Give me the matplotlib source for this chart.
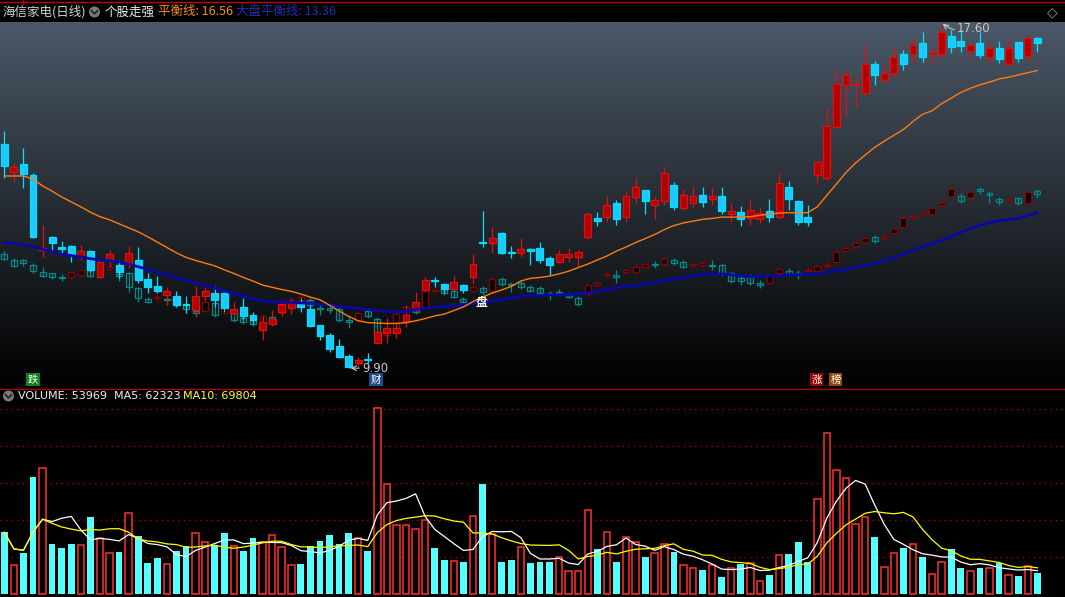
import numpy as np
import pandas as pd
import matplotlib
matplotlib.use("Agg")
import matplotlib.pyplot as plt
from matplotlib.patches import Circle, Rectangle
from matplotlib.lines import Line2D

plt.rcParams['font.family'] = ['Noto Sans CJK SC', 'DejaVu Sans']

# ---- stock (海信家电) daily candles ----
stock_open = [14.92, 14.30, 14.47, 14.22, 12.54, 12.84, 12.62, 12.64, 12.39, 12.52,
              11.95, 12.32, 12.21, 12.23, 12.32, 11.90, 11.74, 11.54, 11.52, 11.34,
              11.20, 11.52, 11.58, 11.58, 11.14, 11.27, 11.09, 10.75, 10.89, 11.16,
              11.25, 11.39, 11.22, 10.87, 10.64, 10.40, 10.17, 10.01, 10.11, 10.47,
              10.69, 10.69, 10.93, 11.20, 11.65, 11.87, 11.78, 11.67, 11.76, 11.93,
              12.73, 12.69, 12.93, 12.51, 12.47, 12.57, 12.58, 12.37, 12.28, 12.38,
              12.38, 12.83, 13.25, 13.28, 13.59, 13.28, 13.72, 13.89, 13.55, 13.65,
              14.00, 13.49, 13.60, 13.77, 13.68, 13.75, 13.35, 13.40, 13.25, 13.23,
              13.42, 13.28, 13.95, 13.64, 13.28, 14.22, 14.16, 15.30, 16.24, 16.24,
              16.06, 16.71, 16.35, 16.51, 16.93, 16.93, 17.18, 16.94, 16.94, 17.33,
              17.22, 17.00, 17.18, 16.86, 17.06, 16.71, 17.20, 16.89, 17.29]
stock_high = [15.21, 14.49, 14.83, 14.27, 13.10, 12.86, 12.75, 12.66, 12.66, 12.54,
              12.34, 12.54, 12.32, 12.63, 12.61, 12.04, 11.96, 11.72, 11.63, 11.52,
              11.74, 11.72, 11.74, 11.60, 11.38, 11.47, 11.16, 11.07, 11.20, 11.43,
              11.47, 11.47, 11.31, 10.87, 10.68, 10.55, 10.22, 10.14, 10.24, 10.80,
              11.02, 10.93, 11.31, 11.61, 11.95, 11.94, 11.81, 11.96, 11.78, 12.45,
              13.42, 13.06, 12.95, 12.63, 12.81, 12.59, 12.73, 12.41, 12.54, 12.58,
              12.54, 13.38, 13.40, 13.75, 13.66, 13.84, 14.15, 13.89, 13.72, 14.39,
              14.06, 13.91, 13.98, 13.95, 13.92, 13.95, 13.59, 13.53, 13.66, 13.50,
              13.68, 14.26, 14.09, 13.66, 13.55, 14.52, 15.71, 16.56, 16.57, 16.39,
              17.13, 16.78, 16.72, 17.09, 17.02, 17.26, 17.41, 17.03, 17.60, 17.47,
              17.47, 17.18, 17.41, 17.17, 17.22, 17.24, 17.20, 17.33, 17.32]
stock_low = [14.16, 14.07, 13.93, 12.81, 12.39, 12.52, 12.48, 12.28, 12.32, 12.06,
             11.92, 12.17, 11.92, 12.14, 11.81, 11.58, 11.58, 11.31, 11.28, 11.13,
             11.05, 11.43, 11.28, 11.16, 11.05, 10.98, 10.89, 10.53, 10.84, 11.07,
             11.11, 11.16, 10.82, 10.53, 10.27, 10.13, 9.90, 9.93, 10.02, 10.46,
             10.46, 10.58, 10.82, 11.16, 11.61, 11.72, 11.58, 11.65, 11.58, 11.80,
             12.62, 12.48, 12.45, 12.37, 12.39, 12.21, 12.25, 11.99, 12.25, 12.28,
             12.17, 12.79, 13.07, 13.18, 13.10, 13.16, 13.60, 13.35, 13.24, 13.55,
             13.44, 13.44, 13.51, 13.51, 13.55, 13.35, 13.18, 13.07, 13.10, 13.14,
             13.18, 13.25, 13.45, 13.10, 13.08, 14.02, 14.11, 15.30, 15.53, 15.74,
             16.01, 16.24, 16.31, 16.40, 16.56, 16.72, 16.76, 16.72, 16.81, 16.96,
             16.98, 16.82, 16.85, 16.72, 16.72, 16.71, 16.74, 16.76, 16.98]
stock_close = [14.42, 14.39, 14.25, 12.84, 12.60, 12.71, 12.57, 12.43, 12.52, 12.10,
               12.28, 12.45, 12.05, 12.48, 11.87, 11.72, 11.63, 11.62, 11.31, 11.31,
               11.52, 11.62, 11.43, 11.25, 11.22, 11.07, 10.98, 10.93, 11.00, 11.34,
               11.38, 11.26, 10.84, 10.61, 10.32, 10.14, 9.93, 10.08, 10.08, 10.72,
               10.80, 10.80, 11.09, 11.38, 11.87, 11.85, 11.67, 11.82, 11.65, 12.23,
               12.69, 12.82, 12.48, 12.47, 12.57, 12.53, 12.32, 12.21, 12.45, 12.45,
               12.49, 13.35, 13.20, 13.55, 13.24, 13.75, 13.95, 13.65, 13.66, 14.26,
               13.51, 13.77, 13.75, 13.62, 13.75, 13.42, 13.42, 13.23, 13.44, 13.37,
               13.28, 14.04, 13.68, 13.16, 13.16, 14.52, 15.32, 16.26, 16.46, 16.26,
               16.71, 16.46, 16.51, 16.87, 16.71, 17.13, 16.86, 16.96, 17.42, 17.09,
               17.11, 17.13, 16.91, 17.06, 16.82, 17.06, 16.83, 17.29, 17.18]

# ---- market index overlay (scaled to the stock's price axis) ----
idx_open = [12.45, 12.32, 12.32, 12.20, 12.06, 12.02, 11.94, 11.95, 11.98, 12.09,
            12.00, 12.13, 12.00, 12.03, 11.69, 11.45, 11.46, 11.45, 11.36, 11.31,
            11.18, 11.19, 11.35, 11.13, 11.13, 11.02, 10.98, 10.79, 11.05, 11.14,
            11.28, 11.43, 11.43, 11.24, 11.25, 11.22, 10.98, 10.98, 11.19, 11.00,
            10.64, 10.75, 11.05, 11.25, 11.26, 11.63, 11.67, 11.63, 11.44, 11.63,
            11.69, 11.63, 11.89, 11.78, 11.80, 11.71, 11.69, 11.58, 11.61, 11.56,
            11.46, 11.55, 11.76, 11.99, 11.98, 12.05, 12.05, 12.17, 12.22, 12.22,
            12.32, 12.27, 12.21, 12.20, 12.21, 12.21, 12.02, 11.91, 11.93, 11.80,
            11.81, 12.02, 12.07, 12.02, 12.07, 12.07, 12.19, 12.27, 12.53, 12.64,
            12.73, 12.83, 12.82, 12.92, 13.05, 13.29, 13.34, 13.34, 13.55, 13.75,
            13.75, 13.72, 13.91, 13.81, 13.68, 13.66, 13.70, 13.59, 13.86]
idx_high = [12.52, 12.37, 12.34, 12.25, 12.16, 12.03, 12.01, 12.06, 12.13, 12.13,
            12.12, 12.25, 12.06, 12.06, 11.72, 11.50, 11.59, 11.56, 11.43, 11.39,
            11.35, 11.43, 11.38, 11.29, 11.18, 11.07, 11.02, 11.11, 11.11, 11.43,
            11.47, 11.54, 11.47, 11.35, 11.29, 11.27, 11.07, 11.18, 11.25, 11.05,
            10.80, 11.16, 11.31, 11.31, 11.69, 11.69, 11.72, 11.67, 11.49, 11.78,
            11.74, 11.94, 11.94, 11.83, 11.85, 11.76, 11.74, 11.63, 11.67, 11.60,
            11.52, 11.78, 11.85, 12.07, 12.10, 12.14, 12.25, 12.28, 12.30, 12.39,
            12.37, 12.32, 12.28, 12.30, 12.32, 12.25, 12.05, 11.99, 12.01, 11.87,
            12.01, 12.16, 12.14, 12.10, 12.19, 12.23, 12.32, 12.54, 12.66, 12.77,
            12.86, 12.88, 12.92, 13.06, 13.37, 13.37, 13.44, 13.53, 13.64, 13.95,
            13.82, 13.91, 13.95, 13.86, 13.73, 13.73, 13.73, 13.86, 13.91]
idx_low = [12.32, 12.16, 12.19, 12.02, 11.95, 11.90, 11.84, 11.87, 11.95, 11.95,
           11.96, 12.06, 11.84, 11.61, 11.39, 11.35, 11.39, 11.31, 11.28, 11.13,
           11.09, 11.16, 11.05, 11.09, 10.93, 10.89, 10.84, 10.75, 10.93, 11.11,
           11.25, 11.38, 11.27, 11.09, 11.13, 10.93, 10.80, 10.93, 11.02, 10.69,
           10.60, 10.71, 11.02, 11.11, 11.25, 11.58, 11.54, 11.47, 11.34, 11.60,
           11.54, 11.60, 11.74, 11.61, 11.67, 11.60, 11.54, 11.43, 11.52, 11.47,
           11.29, 11.52, 11.72, 11.92, 11.81, 12.01, 12.01, 12.14, 12.14, 12.19,
           12.21, 12.14, 12.16, 12.16, 12.10, 11.96, 11.81, 11.76, 11.76, 11.69,
           11.78, 11.99, 11.96, 11.90, 12.03, 12.03, 12.14, 12.23, 12.50, 12.59,
           12.70, 12.70, 12.77, 12.88, 13.01, 13.24, 13.28, 13.30, 13.51, 13.71,
           13.60, 13.60, 13.80, 13.60, 13.55, 13.62, 13.55, 13.55, 13.71]
idx_close = [12.35, 12.19, 12.26, 12.08, 11.97, 11.95, 11.92, 12.05, 12.09, 11.97,
             12.09, 12.17, 11.96, 11.72, 11.46, 11.39, 11.50, 11.42, 11.31, 11.22,
             11.13, 11.39, 11.09, 11.24, 10.98, 10.93, 10.89, 11.07, 11.00, 11.37,
             11.43, 11.49, 11.31, 11.22, 11.20, 10.98, 10.94, 11.13, 11.07, 10.72,
             10.74, 11.11, 11.26, 11.15, 11.65, 11.65, 11.59, 11.50, 11.37, 11.72,
             11.61, 11.89, 11.78, 11.75, 11.72, 11.63, 11.58, 11.54, 11.55, 11.50,
             11.33, 11.75, 11.80, 12.01, 11.95, 12.10, 12.17, 12.22, 12.20, 12.34,
             12.25, 12.17, 12.22, 12.25, 12.19, 12.02, 11.86, 11.84, 11.81, 11.75,
             11.96, 12.11, 12.01, 11.99, 12.10, 12.19, 12.21, 12.49, 12.58, 12.69,
             12.81, 12.75, 12.84, 13.01, 13.25, 13.31, 13.37, 13.48, 13.59, 13.90,
             13.65, 13.85, 13.86, 13.77, 13.62, 13.68, 13.59, 13.84, 13.79]

# ---- balance lines ----
balance = [14.20, 14.20, 14.20, 14.13, 13.98, 13.86, 13.73, 13.62, 13.51, 13.39,
           13.29, 13.22, 13.13, 13.04, 12.95, 12.84, 12.72, 12.60, 12.48, 12.38,
           12.31, 12.25, 12.19, 12.10, 12.02, 11.93, 11.85, 11.76, 11.71, 11.66,
           11.62, 11.56, 11.49, 11.43, 11.31, 11.18, 11.06, 10.96, 10.92, 10.91,
           10.90, 10.90, 10.92, 10.96, 11.01, 11.07, 11.11, 11.19, 11.27, 11.39,
           11.49, 11.58, 11.65, 11.73, 11.85, 11.91, 11.93, 11.96, 12.01, 12.07,
           12.15, 12.23, 12.32, 12.41, 12.52, 12.61, 12.71, 12.80, 12.89, 13.00,
           13.09, 13.15, 13.19, 13.23, 13.25, 13.28, 13.28, 13.28, 13.29, 13.32,
           13.35, 13.37, 13.38, 13.37, 13.38, 13.51, 13.77, 14.02, 14.28, 14.49,
           14.67, 14.84, 14.98, 15.11, 15.24, 15.42, 15.58, 15.66, 15.82, 15.94,
           16.07, 16.16, 16.24, 16.30, 16.37, 16.41, 16.46, 16.51, 16.56]
mkt_balance = [12.71, 12.69, 12.66, 12.62, 12.56, 12.51, 12.45, 12.42, 12.39, 12.35,
               12.32, 12.30, 12.28, 12.23, 12.17, 12.11, 12.04, 11.99, 11.93, 11.87,
               11.81, 11.75, 11.69, 11.63, 11.57, 11.51, 11.45, 11.40, 11.39, 11.38,
               11.37, 11.36, 11.35, 11.33, 11.31, 11.28, 11.26, 11.24, 11.21, 11.18,
               11.17, 11.16, 11.17, 11.22, 11.24, 11.26, 11.28, 11.30, 11.32, 11.35,
               11.37, 11.40, 11.43, 11.47, 11.50, 11.52, 11.53, 11.54, 11.54, 11.55,
               11.56, 11.58, 11.62, 11.66, 11.70, 11.73, 11.75, 11.78, 11.81, 11.86,
               11.90, 11.92, 11.96, 12.00, 12.00, 12.01, 11.99, 11.97, 11.95, 11.95,
               11.96, 11.96, 11.99, 11.99, 12.00, 12.01, 12.05, 12.08, 12.11, 12.16,
               12.20, 12.25, 12.31, 12.37, 12.45, 12.54, 12.62, 12.69, 12.76, 12.84,
               12.94, 13.02, 13.10, 13.15, 13.20, 13.22, 13.25, 13.32, 13.37]

# ---- volume ----
volume = [160950, 74820, 106140, 304500, 329730, 129630, 119190, 129630, 128760, 200100,
          147030, 107880, 108750, 212280, 150510, 80040, 93090, 79170, 111360, 124410,
          160080, 136590, 126150, 158340, 124410, 111360, 145290, 136590, 154860, 121800,
          74820, 77430, 124410, 137460, 153120, 129630, 158340, 147030, 111360, 486330,
          287970, 180960, 180960, 170520, 192270, 119190, 87870, 87000, 82650, 204450,
          286230, 155730, 82650, 87870, 123540, 80040, 82650, 82650, 97440, 60900,
          60900, 220110, 116580, 162690, 82650, 147900, 135720, 95700, 107880, 131370,
          108750, 76560, 68730, 61770, 74820, 43500, 68730, 77430, 81780, 34800,
          48720, 102660, 103530, 134850, 82650, 248820, 421080, 324510, 303630, 183570,
          201840, 147900, 71340, 107880, 119190, 131370, 95700, 53070, 84390, 116580,
          66990, 60900, 66990, 68730, 80040, 50460, 46110, 73950, 53969]

W, H = 1065, 597
n = len(stock_open)
x = np.arange(n)
so, sh, sl, sc = map(np.array, (stock_open, stock_high, stock_low, stock_close))
io, ih, il, ic = map(np.array, (idx_open, idx_high, idx_low, idx_close))
vol = pd.Series(volume, dtype=float)
ma5 = vol.rolling(5, min_periods=1).mean()
ma10 = vol.rolling(10, min_periods=1).mean()


def fx(px):
    return px / W


def fy(py):
    return 1 - py / H


fig = plt.figure(figsize=(W / 100, H / 100), dpi=100, facecolor='black')

# candle i sits at pixel 4.3 + 9.565*i
xlim = (-4.3 / 9.565, (W - 4.3) / 9.565)
ylim = (17.60 - 364 / 44.7, 17.60 + 2 / 44.7)

ax = fig.add_axes([0, fy(388), 1, (388 - 22) / H])
ax.set_xlim(*xlim)
ax.set_ylim(*ylim)
ax.axis('off')

# vertical gradient background
g = np.linspace(0, 1, 256)[:, None, None]
top = np.array([75, 88, 103]) / 255
ax.imshow(g * top, extent=[xlim[0], xlim[1], ylim[0], ylim[1]],
          origin='lower', aspect='auto', zorder=0)


def candles(ax, o, h, l, c, width, up_face, up_edge, dn_face, dn_edge, z):
    up = c >= o
    body_lo = np.minimum(o, c)
    body_h = np.maximum(np.abs(c - o), 0.025)
    wick_col = np.where(up, up_edge, dn_edge)
    ax.vlines(x, l, h, colors=wick_col, linewidth=0.9, zorder=z)
    ax.bar(x[up], body_h[up], bottom=body_lo[up], width=width,
           facecolor=up_face, edgecolor=up_edge, linewidth=0.9, zorder=z + 0.1)
    ax.bar(x[~up], body_h[~up], bottom=body_lo[~up], width=width,
           facecolor=dn_face, edgecolor=dn_edge, linewidth=0.9, zorder=z + 0.1)


candles(ax, io, ih, il, ic, 0.62, 'black', '#8b0000', 'none', '#008b8b', 2)
candles(ax, so, sh, sl, sc, 0.72, '#b00000', '#e01010', '#1ec8ff', '#00e0ff', 4)

ax.plot(x, mkt_balance, color='#0808a8', linewidth=2.0, zorder=5)
ax.plot(x, balance, color='#ff7a10', linewidth=1.0, zorder=6)

# high / low marks
ax.annotate('9.90', xy=(36.2, 9.90), xytext=(37.4, 9.90), color='#c8c8c8',
            fontsize=8.5, va='center', ha='left', family='DejaVu Sans',
            arrowprops=dict(arrowstyle='->', color='#c8c8c8', lw=0.8,
                            shrinkA=0, shrinkB=0), zorder=8)
ax.annotate('17.60', xy=(98.1, 17.61), xytext=(99.6, 17.51), color='#c8c8c8',
            fontsize=8.5, va='center', ha='left', family='DejaVu Sans',
            arrowprops=dict(arrowstyle='->', color='#c8c8c8', lw=0.8,
                            shrinkA=0, shrinkB=0,
                            connectionstyle='arc3,rad=-0.3'), zorder=8)
ax.text(49.84, 11.36, '盘', color='white', fontsize=8.5, ha='center',
        va='center', fontweight='bold', zorder=8)

# ---- volume panel ----
axv = fig.add_axes([0, 0, 1, (597 - 405) / H])
axv.set_facecolor('black')
axv.set_xlim(*xlim)
axv.set_ylim(-7830, 493290)
axv.axis('off')
for k in range(1, 6):
    axv.axhline(k * 96700, color='#a00000', linewidth=1.0,
                linestyle=(0, (1, 3)), zorder=1)
upv = sc >= so
vv = vol.values
axv.bar(x[~upv], vv[~upv], width=0.7, color='#55ffff', zorder=2)
axv.bar(x[upv], vv[upv], width=0.68, facecolor='black', edgecolor='#ff3030',
        linewidth=1.1, zorder=2)
axv.plot(x, ma5, color='white', linewidth=0.9, zorder=3)
axv.plot(x, ma10, color='#ffff00', linewidth=0.9, zorder=3)

# ---- frame lines ----
fig.add_artist(Line2D([0, 1], [fy(1.5), fy(1.5)], color='#c00000', linewidth=1.0))
fig.add_artist(Line2D([fx(22.5), fx(22.5)], [fy(0), fy(4)], color='#c00000', linewidth=1.0))
fig.add_artist(Line2D([0, 1], [fy(388.5), fy(388.5)], color='#b00000', linewidth=1.0))


def chevron_icon(cx, cy):
    fig.add_artist(Circle((fx(cx), fy(cy)), 5.5 / H, transform=fig.transFigure,
                          facecolor='#7a7a7a', edgecolor='none'))
    # keep circle round in pixel space
    fig.artists[-1].set_transform(fig.dpi_scale_trans)
    fig.artists[-1].set_center((cx / 100, (H - cy) / 100))
    fig.artists[-1].set_radius(0.055)
    fig.add_artist(Line2D([fx(cx - 3), fx(cx), fx(cx + 3)],
                          [fy(cy - 1.2), fy(cy + 1.8), fy(cy - 1.2)],
                          color='#202020', linewidth=1.2))


# title bar
fig.text(fx(3), fy(12), '海信家电(日线)', color='#d2d2d2', fontsize=9, va='center')
chevron_icon(94.5, 12)
fig.text(fx(105), fy(12), '个股走强', color='#eeeeee', fontsize=9, va='center')
fig.text(fx(158), fy(12), '平衡线: 16.56', color='#ff8a1a', fontsize=9, va='center')
fig.text(fx(236), fy(12), '大盘平衡线: 13.36', color='#2030b8', fontsize=9, va='center')
fig.text(fx(1052), fy(12), '◇', color='#9a9a9a', fontsize=10, va='center',
         ha='center', family='DejaVu Sans')

# volume header
chevron_icon(8.5, 396)
fig.text(fx(18), fy(396), 'VOLUME: 53969  MA5: 62323', color='#f0f0f0',
         fontsize=8, va='center', family='DejaVu Sans')
fig.text(fx(183), fy(396), 'MA10: 69804', color='#ffff30', fontsize=8,
         va='center', family='DejaVu Sans')

# event tags
for label, x0, x1, bg in [('跌', 26, 40, '#10801a'), ('财', 369, 383, '#1c4c8c'),
                          ('涨', 810, 823, '#a00000'), ('榜', 829, 842, '#8c4a08')]:
    fig.add_artist(Rectangle((fx(x0), fy(386)), (x1 - x0) / W, 13 / H,
                             transform=fig.transFigure, facecolor=bg,
                             edgecolor='none'))
    fig.text(fx((x0 + x1) / 2), fy(379.5), label, color='white', fontsize=7.5,
             ha='center', va='center')

fig.savefig('out.png', dpi=100, facecolor='black')
